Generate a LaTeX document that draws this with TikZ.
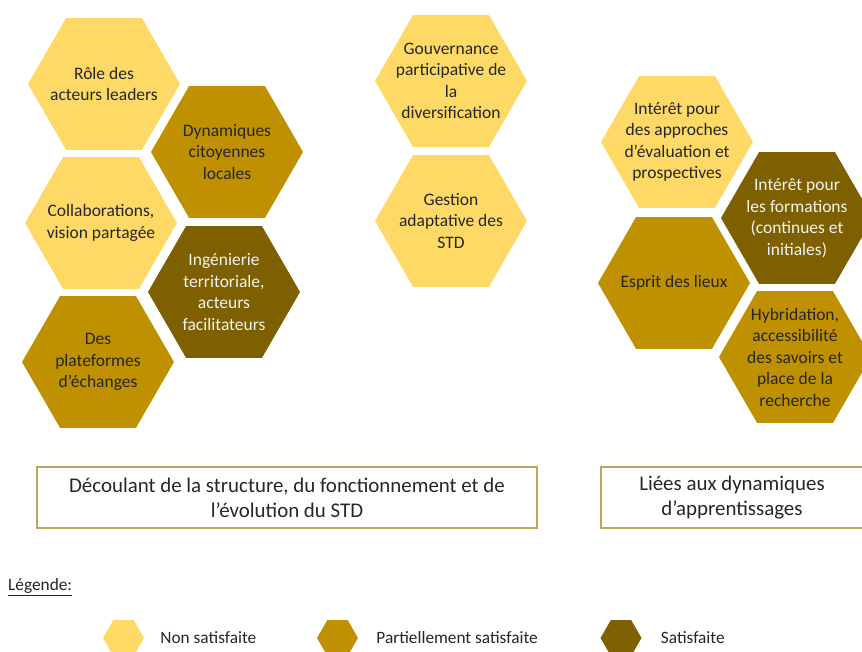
\documentclass[tikz,border=0pt]{standalone}
\usepackage{fontspec}
\setmainfont{Carlito}
\usetikzlibrary{shapes.geometric, positioning}

\definecolor{nonsat}{HTML}{FFD966}
\definecolor{partsat}{HTML}{BF9000}
\definecolor{sat}{HTML}{7F6000}
\definecolor{boxline}{HTML}{BFA660}
\definecolor{txt}{HTML}{262626}

\begin{document}
\begin{tikzpicture}[
  x=1pt, y=1pt,
  hexa/.style={shape=regular polygon, regular polygon sides=6, minimum size=152pt, inner sep=-25pt, align=center, text=txt, font=\fontsize{17.5}{21.5}\selectfont},
  light/.style={hexa, fill=nonsat},
  medium/.style={hexa, fill=partsat},
  dark/.style={hexa, fill=sat, text=white!95!black},
  legendhex/.style={shape=regular polygon, regular polygon sides=6, minimum size=41pt, inner sep=0pt},
  legendtext/.style={inner sep=0pt, text=txt, font=\fontsize{17.3}{21}\selectfont},
  box/.style={draw=boxline, line width=1.2pt, align=center, minimum height=61pt, text=txt, font=\fontsize{20.9}{25}\selectfont}
]
\useasboundingbox (0,0) rectangle (862,652);

% Left group
\node (role) [light] at (104,568) {R\^ole des\\acteurs leaders};
\node (dynam) [medium] at (227,500) {Dynamiques\\citoyennes\\locales};
\node (collab) [light] at (101,429) {Collaborations,\\vision partag\'ee};
\node (ingen) [dark] at (224,360) {Ing\'enierie\\territoriale,\\acteurs\\facilitateurs};
\node (plat) [medium] at (98,290) {Des\\plateformes\\d’\'echanges};

% Middle group
\node (gouv) [light] at (451,571) {Gouvernance\\participative de\\la\\diversification};
\node (gest) [light] at (451,431) {Gestion\\adaptative des\\STD};

% Right group
\node (evalu) [light] at (677,510) {Int\'er\^et pour\\des approches\\d’\'evaluation et\\prospectives};
\node (form) [dark] at (797,434) {Int\'er\^et pour\\les formations\\(continues et\\initiales)};
\node (esprit) [medium] at (674,369) {Esprit des lieux};
\node (hybrid) [medium] at (795,295) {Hybridation,\\accessibilit\'e\\des savoirs et\\place de la\\recherche};

% Boxes
\node (struct) [box, minimum width=500pt] at (287,154.5) {D\'ecoulant de la structure, du fonctionnement et de\\l’\'evolution du STD};
\node (appr) [box, minimum width=262pt] at (732,154.5) {Li\'ees aux dynamiques\\d’apprentissages};

% Legend
\node (legtitle) [legendtext, anchor=west] at (8,65) {\underline{L\'egende:}};
\node (leg1) [legendhex, fill=nonsat] at (123.5,14) {};
\node (leg2) [legendhex, fill=partsat] at (337.5,14) {};
\node (leg3) [legendhex, fill=sat] at (621,14) {};
\node (legtext1) [legendtext, right=16pt of leg1] {Non satisfaite};
\node (legtext2) [legendtext, right=18pt of leg2] {Partiellement satisfaite};
\node (legtext3) [legendtext, right=19pt of leg3] {Satisfaite};

\end{tikzpicture}
\end{document}
